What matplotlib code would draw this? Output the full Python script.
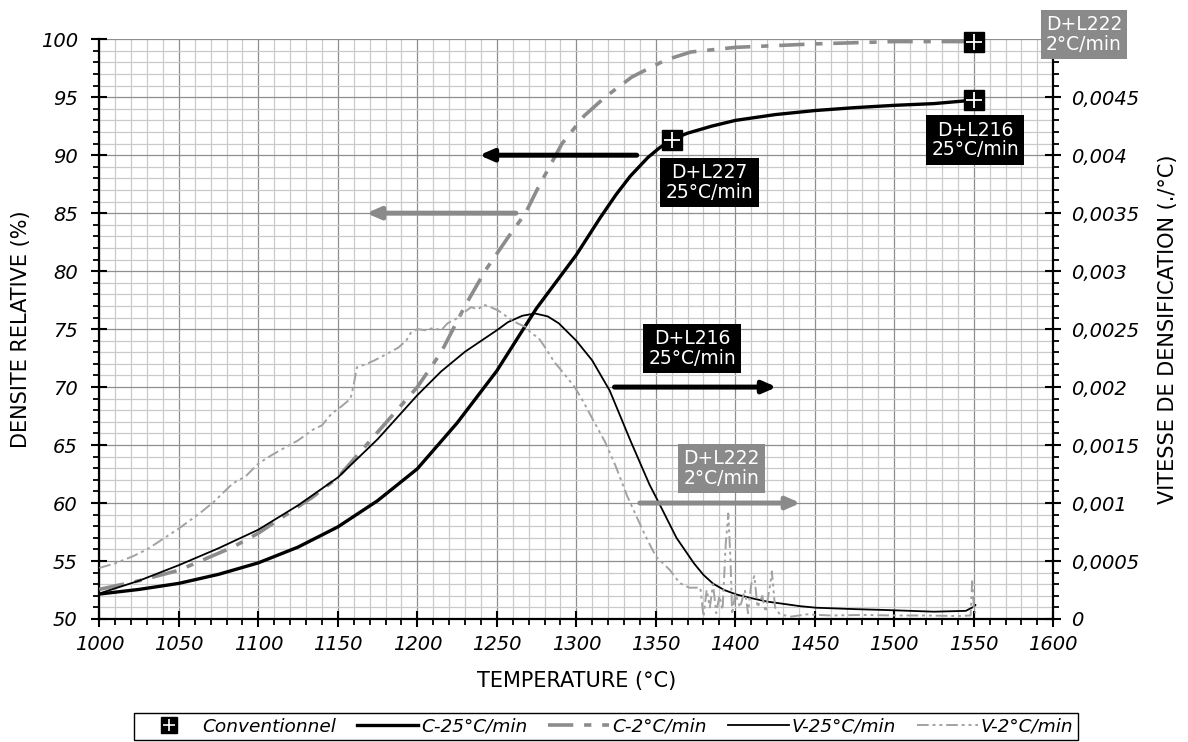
import matplotlib
matplotlib.use("Agg")
import matplotlib.pyplot as plt
from matplotlib.ticker import MultipleLocator, FuncFormatter
from matplotlib.lines import Line2D
from matplotlib.legend_handler import HandlerTuple

plt.rcParams['font.family'] = ['DejaVu Sans']
plt.rcParams['font.style'] = 'italic'

# ---------------- data ----------------
# Relative density, 25 C/min (left axis, %)
T_c25 = [1000, 1025, 1050, 1075, 1100, 1125, 1150, 1175, 1200, 1225, 1250, 1275,
         1300, 1315, 1325, 1334, 1345, 1352, 1360, 1370, 1385, 1400, 1425, 1450,
         1475, 1500, 1525, 1550]
D_c25 = [52.15, 52.55, 53.07, 53.85, 54.84, 56.2, 57.94, 60.2, 62.95, 66.9, 71.4, 76.8,
         81.4, 84.6, 86.6, 88.2, 89.8, 90.6, 91.35, 91.9, 92.5, 93.0, 93.5, 93.85,
         94.1, 94.3, 94.45, 94.75]

# Relative density, 2 C/min (left axis, %)
T_c2 = [1000, 1025, 1050, 1084, 1100, 1134, 1150, 1182, 1200, 1215, 1230, 1243,
        1257, 1268, 1276, 1291, 1305, 1318, 1335, 1356, 1372, 1400, 1450, 1500, 1550]
D_c2 = [52.55, 53.3, 54.2, 56.2, 57.4, 60.5, 62.2, 67.2, 70.0, 73.0, 77.0, 80.1,
        82.9, 85.0, 87.2, 91.0, 93.4, 95.0, 96.75, 98.2, 98.9, 99.3, 99.6, 99.8, 99.8]

# Densification rate, 25 C/min (right axis, /C)
T_v25 = [1000, 1025, 1050, 1075, 1100, 1125, 1150, 1175, 1200, 1215, 1230, 1250,
         1257, 1266, 1274, 1282, 1289, 1300, 1310, 1321, 1334, 1346, 1352, 1363,
         1374, 1380, 1386, 1393, 1401, 1410, 1420, 1441, 1451, 1475, 1493, 1525,
         1545, 1550, 1551]
V_v25 = [0.00022, 0.00033, 0.000464, 0.00061, 0.00077, 0.00098, 0.00122, 0.00155,
         0.00193, 0.002135, 0.002305, 0.00249, 0.00256, 0.002615, 0.002635, 0.00261,
         0.00255, 0.0024, 0.00223, 0.00197, 0.00154, 0.00116, 0.001, 0.0007,
         0.00048, 0.00038, 0.000305, 0.00025, 0.00021, 0.00018, 0.00015, 0.00011,
         0.000097, 0.000085, 0.000078, 0.000063, 0.00007, 0.000106, 0.00012]

# Densification rate, 2 C/min (right axis, /C)
T_v2 = [1000, 1010, 1021, 1030, 1040, 1050, 1063, 1072, 1084, 1092, 1100, 1108,
        1117, 1125, 1134, 1140, 1146, 1152, 1158, 1160, 1162, 1168, 1173, 1180,
        1188, 1193, 1196, 1200, 1205, 1210, 1215, 1219, 1226, 1231, 1234, 1238,
        1242, 1246, 1251, 1257, 1263, 1268, 1272, 1276, 1280, 1286, 1292, 1299,
        1305, 1310, 1318, 1325, 1332, 1338, 1343, 1350, 1359, 1365, 1371, 1378,
        1380, 1382, 1384, 1386, 1388, 1390, 1392, 1394, 1395.6, 1397, 1398, 1400,
        1403, 1406, 1408, 1410, 1412, 1414, 1417, 1419, 1422, 1423, 1425, 1428,
        1435, 1445, 1460, 1480, 1500, 1520, 1540, 1548, 1549, 1550, 1551]
V_v2 = [0.00044, 0.00048, 0.00054, 0.0006, 0.00069, 0.00078, 0.00091, 0.00101,
        0.00117, 0.00123, 0.00134, 0.00141, 0.00148, 0.00154, 0.00163, 0.00167,
        0.00177, 0.00183, 0.0019, 0.00202, 0.00217, 0.0022, 0.00223, 0.00228,
        0.00234, 0.0024, 0.00247, 0.0025, 0.00249, 0.00251, 0.00249, 0.00255,
        0.0026, 0.00266, 0.00269, 0.00267, 0.00271, 0.00269, 0.00266, 0.0026,
        0.00255, 0.00252, 0.00246, 0.00243, 0.00235, 0.00222, 0.00212, 0.002,
        0.00186, 0.00173, 0.00153, 0.00131, 0.00106, 0.00088, 0.00073, 0.00054,
        0.00042, 0.00031, 0.00027, 0.00027, 0.00002, 0.00025, 0.0001, 0.0003,
        0.00005, 0.0002, 0.00008, 0.00065, 0.00091, 0.0005, 0.00004, 0.00022,
        0.0001, 0.00025, 0.00005, 0.0003, 0.00037, 0.0001, 0.0002, 0.00006,
        0.0003, 0.00041, 0.0001, 0.00004, 0.00002, 0.00004, 0.00003, 0.000035,
        0.00003, 0.00003, 0.000025, 0.00003, 0.00034, 0.0001, 0.00005]

# Conventional sintering points (left axis)
conv_T = [1360, 1550, 1550]
conv_D = [91.35, 94.75, 99.8]

# Annotation boxes
box_T = [1383.8, 1551, 1619.3, 1373, 1391.3]
box_D = [87.67, 91.3, 100.4, 73.3, 63.0]
box_text = ["D+L227\n25°C/min", "D+L216\n25°C/min", "D+L222\n2°C/min",
            "D+L216\n25°C/min", "D+L222\n2°C/min"]
box_color = ["black", "black", "#8a8a8a", "black", "#8a8a8a"]

# Arrows: tail -> head
arr_tail_T = [1338, 1262, 1324, 1340]
arr_head_T = [1239, 1168, 1426, 1441]
arr_D = [90, 85, 70, 60]
arr_color = ["black", "#8a8a8a", "black", "#8a8a8a"]

series_labels = ["Conventionnel", "C-25°C/min", "C-2°C/min", "V-25°C/min", "V-2°C/min"]

# ---------------- figure ----------------
fig = plt.figure(figsize=(11.88, 7.42), dpi=100)
ax = fig.add_axes([0.0836, 0.1658, 0.8030, 0.7813])
ax2 = ax.twinx()

ax.set_xlim(1000, 1600)
ax.set_ylim(50, 100)
ax2.set_ylim(0, 0.005)

ax.xaxis.set_major_locator(MultipleLocator(50))
ax.xaxis.set_minor_locator(MultipleLocator(10))
ax.yaxis.set_major_locator(MultipleLocator(5))
ax.yaxis.set_minor_locator(MultipleLocator(1))
ax2.yaxis.set_major_locator(MultipleLocator(0.0005))
ax2.yaxis.set_minor_locator(MultipleLocator(0.0001))


def right_fmt(v, pos):
    if abs(v) < 1e-12:
        return "0"
    if v > 0.00495:
        return ""
    return f"{v:.4f}".rstrip("0").replace(".", ",")


ax2.yaxis.set_major_formatter(FuncFormatter(right_fmt))

ax.set_axisbelow(True)
ax.grid(which='minor', color='#cacaca', lw=0.9)
ax.grid(which='major', color='#8e8e8e', lw=0.9)

for a in (ax, ax2):
    a.spines['top'].set_visible(False)
    a.tick_params(which='major', direction='inout', length=11, width=1.5,
                  labelsize=14, color='black')
    a.tick_params(which='minor', direction='out', length=4, width=1.3, color='black')
ax.spines['right'].set_visible(False)
ax.spines['left'].set_linewidth(1.6)
ax.spines['bottom'].set_linewidth(1.6)
ax2.spines['right'].set_linewidth(1.6)
ax2.spines['left'].set_visible(False)
ax2.spines['bottom'].set_visible(False)
ax.tick_params(axis='x', pad=6)
ax.tick_params(axis='y', pad=10)
ax2.tick_params(axis='y', pad=7)

ax.set_xlabel("TEMPERATURE (°C)", fontsize=15, style='normal', labelpad=12)
ax.set_ylabel("DENSITE RELATIVE (%)", fontsize=15, style='normal', labelpad=7)
ax2.set_ylabel("VITESSE DE DENSIFICATION (./°C)", fontsize=15, style='normal', labelpad=14)

# curves
l_c25, = ax.plot(T_c25, D_c25, color='black', lw=2.4, zorder=3)
l_c2, = ax.plot(T_c2, D_c2, color='#8c8c8c', lw=2.6, dashes=(7, 3, 2, 3), zorder=3)
l_v25, = ax2.plot(T_v25, V_v25, color='black', lw=1.3, zorder=3)
l_v2, = ax2.plot(T_v2, V_v2, color='#a2a2a2', lw=1.4, dashes=(6, 2, 1.5, 2, 1.5, 2), zorder=3)

# conventional markers
ax2.plot(conv_T, conv_D, 's', ms=14, color='black', transform=ax.transData,
         clip_on=False, zorder=6)
ax2.plot(conv_T, conv_D, '+', ms=11, mew=1.3, color='white', transform=ax.transData,
         clip_on=False, zorder=7)

# boxes
for x, y, s, c in zip(box_T, box_D, box_text, box_color):
    ax2.text(x, y, s, transform=ax.transData, ha='center', va='center', color='white',
             fontsize=13.5, style='normal', linespacing=1.05, zorder=10, clip_on=False,
             bbox=dict(boxstyle='square,pad=0.28', fc=c, ec='none'))

# arrows
for t0, t1, d, c in zip(arr_tail_T, arr_head_T, arr_D, arr_color):
    ax2.annotate('', xy=(t1, d), xytext=(t0, d), xycoords=ax.transData,
                 textcoords=ax.transData, zorder=9,
                 arrowprops=dict(arrowstyle='-|>,head_length=0.8,head_width=0.35',
                                 lw=3.6, color=c, shrinkA=0, shrinkB=0,
                                 mutation_scale=10))

# legend
h_conv = (Line2D([], [], marker='s', ms=11, color='black', ls='none'),
          Line2D([], [], marker='+', ms=8, mew=1.2, color='white', ls='none'))
leg = fig.legend([h_conv, l_c25, l_c2, l_v25, l_v2], series_labels,
                 handler_map={tuple: HandlerTuple(ndivide=1)},
                 loc='center', bbox_to_anchor=(0.51, 0.0205), ncol=5,
                 frameon=True, fancybox=False, edgecolor='black', framealpha=1,
                 fontsize=13.3, handlelength=3.3, handletextpad=0.15,
                 columnspacing=1.15, borderpad=0.25, borderaxespad=0)
leg.get_frame().set_linewidth(1.0)

fig.savefig("out.png", dpi=100)
